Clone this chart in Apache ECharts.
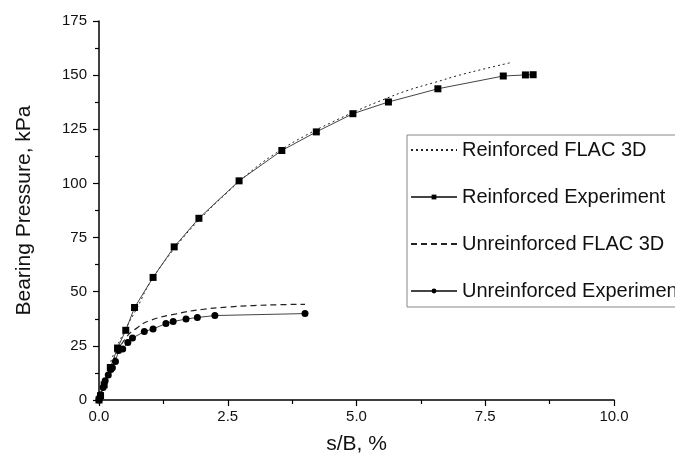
<!DOCTYPE html>
<html>
<head>
<meta charset="utf-8">
<script src="https://cdn.jsdelivr.net/npm/echarts@6/dist/echarts.min.js"></script>
<style>
html, body { margin: 0; padding: 0; background: #fff; }
#main { width: 675px; height: 460px; }
</style>
</head>
<body>
<div id="main"></div>
<script>
// [s/B %, kPa]
var reinfFlac = [[0,0],[0.25,19],[0.5,32],[0.75,43],[1,54.5],[1.5,71],[2,84.5],[2.5,96],[3,106.5],[3.5,115],
    [4,122],[4.5,128],[5,133.5],[5.5,138.5],[6,143],[6.5,146.5],[7,150],[7.5,153],[8,155.8]];
var reinfExp = [[0,0],[0.03,2],[0.1,7],[0.22,15],[0.36,24],[0.52,32.2],[0.69,42.7],[1.05,56.6],[1.46,70.7],
    [1.94,83.9],[2.72,101.2],[3.55,115.2],[4.22,123.8],[4.93,132.2],[5.62,137.6],[6.58,143.7],
    [7.85,149.6],[8.28,150.1],[8.43,150.2]];
var unreinfFlac = [[0,0],[0.1,7.5],[0.25,16.5],[0.5,28],[0.75,33.5],[1,36.8],[1.5,39.8],[2,41.8],
    [2.5,42.9],[3,43.6],[3.5,44],[4,44.2]];
var unreinfExp = [[0,0],[0.01,1.0],[0.03,2.4],[0.08,5.8],[0.12,8.9],[0.18,11.5],[0.23,14.1],[0.26,14.9],
    [0.32,17.8],[0.38,22.9],[0.46,23.5],[0.56,26.6],[0.65,28.6],[0.88,31.6],[1.05,32.8],[1.3,35.3],
    [1.44,36.2],[1.69,37.4],[1.91,38.1],[2.25,39.0],[4.0,39.9]];
var names = ['Reinforced FLAC 3D', 'Reinforced Experiment', 'Unreinforced FLAC 3D', 'Unreinforced Experimen'];

var font = '"Liberation Sans", Arial, sans-serif';
var myChart = echarts.init(document.getElementById('main'));

function axisBase() {
    return {
        axisLine: { lineStyle: { color: '#000', width: 1.5 } },
        axisTick: { inside: false, length: 6, lineStyle: { color: '#000', width: 1.2 } },
        minorTick: { show: true, splitNumber: 2, length: 4, lineStyle: { color: '#000', width: 1.2 } },
        splitLine: { show: false },
        axisLabel: { color: '#111', fontSize: 15, fontFamily: font },
        nameTextStyle: { color: '#111', fontSize: 21, fontFamily: font }
    };
}

var xAxis = axisBase();
xAxis.type = 'value';
xAxis.min = 0; xAxis.max = 10; xAxis.interval = 2.5;
xAxis.name = 's/B, %';
xAxis.nameLocation = 'middle';
xAxis.nameGap = 34;
xAxis.axisLabel.margin = 9;
xAxis.axisLabel.formatter = function (v) { return v.toFixed(1); };

var yAxis = axisBase();
yAxis.type = 'value';
yAxis.min = 0; yAxis.max = 175; yAxis.interval = 25;
yAxis.name = 'Bearing Pressure, kPa';
yAxis.nameLocation = 'middle';
yAxis.nameGap = 64;
yAxis.axisLabel.margin = 12;

var option = {
    animation: false,
    grid: { left: 99, right: 61, top: 21, bottom: 60 },
    xAxis: xAxis,
    yAxis: yAxis,
    legend: {
        orient: 'vertical',
        left: 407,
        top: 135,
        data: names,
        itemWidth: 46,
        itemHeight: 6,
        itemGap: 27,
        padding: [5, 20, 6, 3],
        borderColor: '#888',
        borderWidth: 1,
        selectedMode: false,
        textStyle: { color: '#111', fontSize: 20, fontFamily: font }
    },
    series: [{
        name: names[0],
        type: 'line',
        smooth: true,
        symbol: 'none',
        itemStyle: { color: 'rgba(0,0,0,0)' },
        lineStyle: { color: '#222', width: 1, type: [2, 3] },
        data: reinfFlac
    }, {
        name: names[1],
        type: 'line',
        symbol: 'rect',
        symbolSize: 7,
        itemStyle: { color: '#000' },
        lineStyle: { color: '#444', width: 1 },
        data: reinfExp
    }, {
        name: names[2],
        type: 'line',
        smooth: true,
        symbol: 'none',
        itemStyle: { color: 'rgba(0,0,0,0)' },
        lineStyle: { color: '#222', width: 1.2, type: [6, 4] },
        data: unreinfFlac
    }, {
        name: names[3],
        type: 'line',
        symbol: 'circle',
        symbolSize: 7,
        itemStyle: { color: '#000' },
        lineStyle: { color: '#444', width: 1 },
        data: unreinfExp
    }]
};

myChart.setOption(option);
window.addEventListener('resize', function () { myChart.resize(); });
</script>
</body>
</html>
